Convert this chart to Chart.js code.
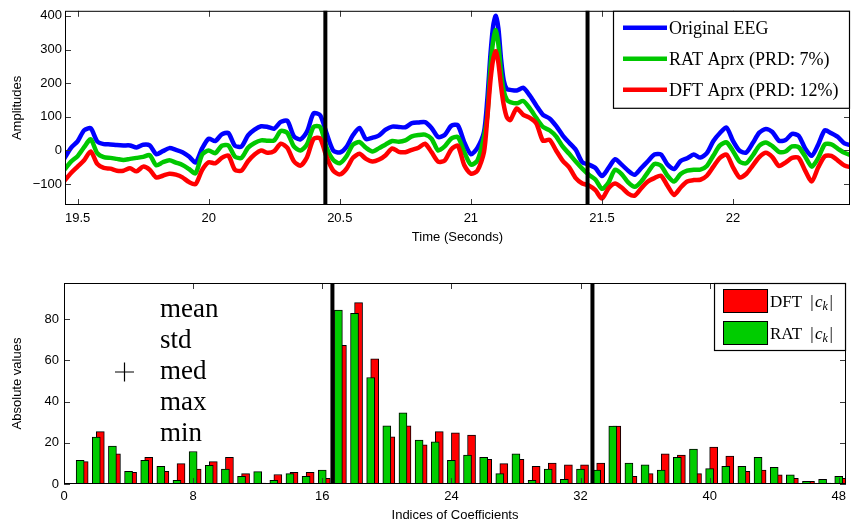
<!DOCTYPE html>
<html>
<head>
<meta charset="utf-8">
<script src="https://cdn.jsdelivr.net/npm/chart.js@4.4.0/dist/chart.umd.min.js"></script>
<style>
  html, body { margin: 0; padding: 0; background: #fff; }
  #wrap { position: relative; width: 851px; height: 526px; overflow: hidden; }
  #eeg { position: absolute; left: 0; top: 0; }
  #coef { position: absolute; left: 0; top: 260px; }
</style>
</head>
<body>
<div id="wrap">
  <canvas id="eeg" width="851" height="250"></canvas>
  <canvas id="coef" width="851" height="266"></canvas>
</div>
<script>
// ---- EEG window (seconds) and the three traces ----
const timeSec = [
  19.45, 19.475, 19.5, 19.525, 19.55, 19.575, 19.6, 19.625, 19.65, 19.675,
  19.7, 19.725, 19.75, 19.775, 19.8, 19.825, 19.85, 19.875, 19.9, 19.925,
  19.95, 19.975, 20.0, 20.025, 20.05, 20.075, 20.1, 20.125, 20.15, 20.175,
  20.2, 20.225, 20.25, 20.275, 20.3, 20.325, 20.35, 20.375, 20.4, 20.425,
  20.45, 20.475, 20.5, 20.525, 20.55, 20.575, 20.6, 20.625, 20.65, 20.675,
  20.7, 20.725, 20.75, 20.775, 20.8, 20.825, 20.85, 20.875, 20.9, 20.925,
  20.95, 20.975, 21.0, 21.025, 21.05,
  21.0625, 21.075, 21.085, 21.095, 21.105, 21.115, 21.125, 21.1375,
  21.15, 21.175, 21.2, 21.225, 21.25, 21.275, 21.3, 21.325, 21.35, 21.375, 21.4, 21.425,
  21.45, 21.475, 21.5, 21.525, 21.55, 21.575, 21.6, 21.625, 21.65, 21.675,
  21.7, 21.725, 21.75, 21.775, 21.8, 21.825, 21.85, 21.875, 21.9, 21.925,
  21.95, 21.975, 22.0, 22.025, 22.05, 22.075, 22.1, 22.125, 22.15, 22.175,
  22.2, 22.225, 22.25, 22.275, 22.3, 22.325, 22.35, 22.375, 22.4, 22.425, 22.45
];
const eegOriginal = [
  -23, 8, 27, 60, 66, 27, 19, 18, 16, 15,
  15, 9, 17, 15, -11, -2, 7, 2, -5, -18,
  -36, 6, 35, 28, 48, 52, 14, 12, 45, 62,
  72, 70, 65, 85, 88, 42, 33, 56, 110, 105,
  50, 0, -6, 10, 45, 67, 34, 38, 45, 62,
  71, 70, 69, 81, 83, 84, 67, 40, 46, 73,
  75, 24, -11, 8, 55,
  150, 288, 370, 400, 362, 272, 209, 182,
  180, 178, 186, 163, 133, 106, 95, 73, 45, 23, 2, -35,
  -42, -52, -76, -52, -26, -42, -60, -72, -52, -32,
  -12, -12, -42, -55, -31, -23, -12, -21, -8, 28,
  52, 68, 28, -1, -6, 22, 53, 64, 55, 29,
  31, 49, 44, 6, -16, 18, 60, 51, 40, 21, 15
];
const ratApprox = [
  -57, -33, -17, 10, 33, -8, -20, -22, -25, -28,
  -25, -22, -19, -14, -44, -35, -29, -36, -43, -55,
  -68, -12, 0, -8, 14, 15, -18, -22, 8, 22,
  30, 29, 30, 58, 52, 12, 0, 18, 70, 70,
  8, -28, -38, -18, 17, 25, 8, -3, 7, 18,
  28, 26, 30, 42, 46, 47, 35, 0, 12, 35,
  40, -5, -42, -30, 40,
  100, 250, 325, 358, 314, 232, 178, 150,
  144, 140, 147, 125, 96, 70, 60, 42, 12, -10, -33, -54,
  -72, -86, -114, -95, -57, -70, -95, -108, -92, -65,
  -40, -45, -75, -92, -70, -60, -57, -57, -46, -15,
  15, 24, -2, -33, -38, -15, 14, 24, 13, -4,
  -3, 12, 10, -18, -48, -22, 18, 18, 5, -7, -14
];
const dftApprox = [
  -90, -67, -48, -29, -3, -40, -52, -54, -60, -60,
  -53, -62, -48, -57, -80, -75, -69, -72, -80, -94,
  -100, -58, -35, -38, -22, -15, -57, -60, -32, -12,
  0, -7, -2, 20, 8, -32, -45, -20, 34, 36,
  -20, -60, -71, -55, -22, -10, -25, -33, -27, -14,
  6, -4, -5, 2, 8, 20, -5, -33, -30, 3,
  14, -44, -69, -60, -5,
  95, 210, 271, 295, 260, 192, 137, 98,
  90, 125, 106, 97, 80, 29, 32, 0, -30, -50, -82, -98,
  -104, -118, -143, -112, -98, -110, -128, -134, -112, -92,
  -82, -75, -105, -132, -110, -92, -88, -87, -75, -48,
  -22, -12, -50, -80, -70, -45, -20, -7, -20, -46,
  -36, -22, -22, -60, -92, -50, -17, -16, -30, -45, -50
];
const seriesNames = ['Original EEG', 'RAT Aprx (PRD: 7%)', 'DFT Aprx (PRD: 12%)'];
const segmentEdgesSec = [20.445, 21.445];
const timeTicks = [19.5, 20, 20.5, 21, 21.5, 22];
const timeTickLabels = ['19.5', '20', '20.5', '21', '21.5', '22'];
const ampTicks = [-100, 0, 100, 200, 300, 400];
const ampTickLabels = ['\u2212100', '0', '100', '200', '300', '400'];

// ---- coefficient magnitudes ----
const coeffIndex = [
  1, 2, 3, 4, 5, 6, 7, 8, 9, 10, 11, 12, 13, 14, 15, 16,
  17, 18, 19, 20, 21, 22, 23, 24, 25, 26, 27, 28, 29, 30, 31, 32,
  33, 34, 35, 36, 37, 38, 39, 40, 41, 42, 43, 44, 45, 46, 47, 48
];
const dftMag = [
  10.9, 25.4, 14.6, 5.7, 13.0, 6.2, 9.9, 7.2, 10.9, 13.0, 5.0, 0.5, 4.6, 5.7, 5.7, 2.8,
  67.3, 88.1, 60.8, 22.9, 28.3, 19.0, 25.4, 24.9, 23.7, 12.0, 9.9, 12.0, 8.6, 10.2, 9.3, 9.3,
  10.2, 28.1, 3.7, 5.0, 14.6, 14.0, 5.0, 17.9, 13.5, 6.2, 6.7, 4.4, 2.8, 1.3, 0.5, 2.8
];
const ratMag = [
  11.5, 22.8, 18.4, 6.2, 11.5, 8.6, 1.8, 15.8, 9.1, 7.2, 3.7, 6.0, 1.8, 5.0, 3.7, 6.7,
  84.4, 82.9, 51.7, 28.3, 34.5, 21.3, 20.5, 11.5, 14.0, 13.0, 5.0, 14.6, 1.8, 7.2, 2.3, 7.2,
  6.7, 28.1, 10.2, 9.3, 6.7, 13.0, 16.9, 7.5, 8.6, 8.6, 13.0, 8.1, 4.4, 1.3, 2.3, 3.7
];
const coeffNames = ['DFT', 'RAT'];
const segmentEdgesIdx = [16.63, 32.74];
const idxTicks = [0, 8, 16, 24, 32, 40, 48];
const idxTickLabels = ['0', '8', '16', '24', '32', '40', '48'];
const absTicks = [0, 20, 40, 60, 80];
const absTickLabels = ['0', '20', '40', '60', '80'];
const statNames = ['mean', 'std', 'med', 'max', 'min'];

// ---- shared look ----
Chart.defaults.font.family = '"Liberation Sans", Arial, sans-serif';
Chart.defaults.font.size = 13;
Chart.defaults.color = '#000';
const SERIF = '"Liberation Serif", "Times New Roman", serif';

function drawSegmentEdges(chart, values, width) {
  const { ctx, chartArea: a, scales: { x } } = chart;
  ctx.save();
  ctx.strokeStyle = '#000';
  ctx.lineWidth = width;
  for (const v of values) {
    const px = x.getPixelForValue(v);
    ctx.beginPath();
    ctx.moveTo(px, a.top);
    ctx.lineTo(px, a.bottom);
    ctx.stroke();
  }
  ctx.restore();
}

// boxed axes with inward tick marks on all four sides
function drawFrame(chart, xVals, yVals) {
  const { ctx, chartArea: a, scales: { x, y } } = chart;
  const len = 6;
  ctx.save();
  ctx.strokeStyle = '#3a3a3a';
  ctx.lineWidth = 1;
  ctx.beginPath();
  for (const v of xVals) {
    const px = Math.round(x.getPixelForValue(v)) + 0.5;
    ctx.moveTo(px, a.bottom); ctx.lineTo(px, a.bottom - len);
    ctx.moveTo(px, a.top); ctx.lineTo(px, a.top + len);
  }
  for (const v of yVals) {
    const py = Math.round(y.getPixelForValue(v)) + 0.5;
    ctx.moveTo(a.left, py); ctx.lineTo(a.left + len, py);
    ctx.moveTo(a.right, py); ctx.lineTo(a.right - len, py);
  }
  ctx.stroke();
  ctx.strokeStyle = '#000';
  ctx.strokeRect(a.left + 0.5, a.top + 0.5, a.right - a.left - 1, a.bottom - a.top - 1);
  ctx.restore();
}

const eegDecor = {
  id: 'eegDecor',
  afterDatasetsDraw(chart) {
    drawSegmentEdges(chart, segmentEdgesSec, 4);
    drawFrame(chart, timeTicks, ampTicks);
    // legend in the upper-right corner
    const { ctx, chartArea: a } = chart;
    const w = 237, h = 98;
    const x0 = a.right - w, y0 = a.top;
    ctx.save();
    ctx.fillStyle = '#fff';
    ctx.fillRect(x0, y0, w, h);
    ctx.strokeStyle = '#000';
    ctx.lineWidth = 1.2;
    ctx.strokeRect(x0 + 0.5, y0 + 0.5, w - 1, h - 1);
    ctx.font = '18px ' + SERIF;
    ctx.textBaseline = 'alphabetic';
    chart.data.datasets.forEach((ds, i) => {
      const ly = y0 + 17 + i * 31;
      ctx.strokeStyle = ds.borderColor;
      ctx.lineWidth = 4.5;
      ctx.lineCap = 'butt';
      ctx.beginPath();
      ctx.moveTo(x0 + 10, ly);
      ctx.lineTo(x0 + 54, ly);
      ctx.stroke();
      ctx.fillStyle = '#000';
      ctx.fillText(ds.label, x0 + 56, ly + 6);
    });
    ctx.restore();
  }
};

function drawCoeffLabel(ctx, name, x, base) {
  ctx.font = '17px ' + SERIF;
  ctx.fillText(name, x, base);
  let cx = x + ctx.measureText(name).width + 8;
  ctx.fillText('|', cx, base);
  cx += ctx.measureText('|').width + 1.5;
  ctx.font = 'italic 17px ' + SERIF;
  ctx.fillText('c', cx, base);
  cx += ctx.measureText('c').width;
  ctx.font = 'italic 12px ' + SERIF;
  ctx.fillText('k', cx, base + 3);
  cx += ctx.measureText('k').width + 1.5;
  ctx.font = '17px ' + SERIF;
  ctx.fillText('|', cx, base);
}

const coefDecor = {
  id: 'coefDecor',
  afterDatasetsDraw(chart) {
    drawSegmentEdges(chart, segmentEdgesIdx, 4);
    drawFrame(chart, idxTicks, absTicks);
    const { ctx, chartArea: a } = chart;
    ctx.save();
    // statistics legend block (text only, with the '+' marker beside "med")
    ctx.fillStyle = '#000';
    ctx.font = '27px ' + SERIF;
    ctx.textBaseline = 'alphabetic';
    statNames.forEach((s, i) => ctx.fillText(s, a.left + 96, a.top + 33.5 + i * 31));
    const mx = a.left + 60.5, my = a.top + 89;
    ctx.strokeStyle = '#000';
    ctx.lineWidth = 1.2;
    ctx.beginPath();
    ctx.moveTo(mx - 9.5, my); ctx.lineTo(mx + 9.5, my);
    ctx.moveTo(mx, my - 9.5); ctx.lineTo(mx, my + 9.5);
    ctx.stroke();
    // bar legend in the upper-right corner
    const w = 132, h = 68;
    const x0 = a.right - w, y0 = a.top;
    ctx.fillStyle = '#fff';
    ctx.fillRect(x0, y0, w, h);
    ctx.strokeStyle = '#000';
    ctx.lineWidth = 1.2;
    ctx.strokeRect(x0 + 0.5, y0 + 0.5, w - 1, h - 1);
    chart.data.datasets.forEach((ds, i) => {
      const py = y0 + 6 + i * 32;
      ctx.fillStyle = ds.backgroundColor;
      ctx.fillRect(x0 + 9, py, 45, 24);
      ctx.strokeStyle = '#000';
      ctx.lineWidth = 1;
      ctx.strokeRect(x0 + 9.5, py + 0.5, 44, 23);
      ctx.fillStyle = '#000';
      drawCoeffLabel(ctx, ds.label, x0 + 56, py + 18);
    });
    ctx.restore();
  }
};

// ---- top: EEG traces ----
const eegColors = ['#0000ff', '#00c800', '#ff0000'];
const eegSeries = [eegOriginal, ratApprox, dftApprox];
new Chart(document.getElementById('eeg'), {
  type: 'line',
  data: {
    datasets: eegSeries.map((vals, s) => ({
      label: seriesNames[s],
      data: timeSec.map((t, i) => ({ x: t, y: vals[i] })),
      borderColor: eegColors[s],
      borderWidth: 4.5,
      pointRadius: 0,
      tension: 0.25,
      borderJoinStyle: 'round',
      borderCapStyle: 'round',
      fill: false,
      order: 3 - s,
      clip: 0
    }))
  },
  options: {
    responsive: false,
    animation: false,
    events: [],
    layout: { padding: { top: 4, right: 1, left: 0, bottom: 0 } },
    plugins: { legend: { display: false }, tooltip: { enabled: false } },
    scales: {
      x: {
        type: 'linear', min: 19.452, max: 22.446,
        grid: { display: false, drawTicks: false }, border: { display: false },
        afterBuildTicks: sc => { sc.ticks = timeTicks.map(v => ({ value: v })); },
        afterFit: sc => { sc.height = 45; },
        ticks: { autoSkip: false, maxRotation: 0, padding: 6, callback: (v, i) => timeTickLabels[i] },
        title: { display: true, text: 'Time (Seconds)', padding: { top: 0, bottom: 5 } }
      },
      y: {
        type: 'linear', min: -162, max: 415,
        grid: { display: false, drawTicks: false }, border: { display: false },
        afterBuildTicks: sc => { sc.ticks = ampTicks.map(v => ({ value: v })); },
        afterFit: sc => { sc.width = 65; },
        ticks: { autoSkip: false, padding: 3, callback: (v, i) => ampTickLabels[i] },
        title: { display: true, text: 'Amplitudes', padding: { top: 10, bottom: 0 } }
      }
    }
  },
  plugins: [eegDecor]
});

// ---- bottom: coefficient magnitudes ----
const coefColors = ['#ff0000', '#00cc00'];
const coefSeries = [dftMag, ratMag];
const coefShift = [0.25, 0];
new Chart(document.getElementById('coef'), {
  type: 'bar',
  data: {
    datasets: coefSeries.map((vals, s) => ({
      label: coeffNames[s],
      data: coeffIndex.map((k, i) => ({ x: k + coefShift[s], y: vals[i] })),
      backgroundColor: coefColors[s],
      borderColor: '#000',
      borderWidth: 1,
      borderSkipped: false,
      barThickness: 8,
      grouped: false,
      order: 2 - s
    }))
  },
  options: {
    responsive: false,
    animation: false,
    events: [],
    layout: { padding: { top: 23, right: 2, left: 0, bottom: 0 } },
    plugins: { legend: { display: false }, tooltip: { enabled: false } },
    scales: {
      x: {
        type: 'linear', min: 0, max: 48.45, offset: false,
        grid: { display: false, drawTicks: false }, border: { display: false },
        afterBuildTicks: sc => { sc.ticks = idxTicks.map(v => ({ value: v })); },
        afterFit: sc => { sc.height = 42; },
        ticks: { autoSkip: false, maxRotation: 0, padding: 5, callback: (v, i) => idxTickLabels[i] },
        title: { display: true, text: 'Indices of Coefficients', padding: { top: 0, bottom: 3 } }
      },
      y: {
        type: 'linear', min: 0, max: 97.6,
        grid: { display: false, drawTicks: false }, border: { display: false },
        afterBuildTicks: sc => { sc.ticks = absTicks.map(v => ({ value: v })); },
        afterFit: sc => { sc.width = 64; },
        ticks: { autoSkip: false, padding: 5, callback: (v, i) => absTickLabels[i] },
        title: { display: true, text: 'Absolute values', padding: { top: 10, bottom: 0 } }
      }
    }
  },
  plugins: [coefDecor]
});
</script>
</body>
</html>
